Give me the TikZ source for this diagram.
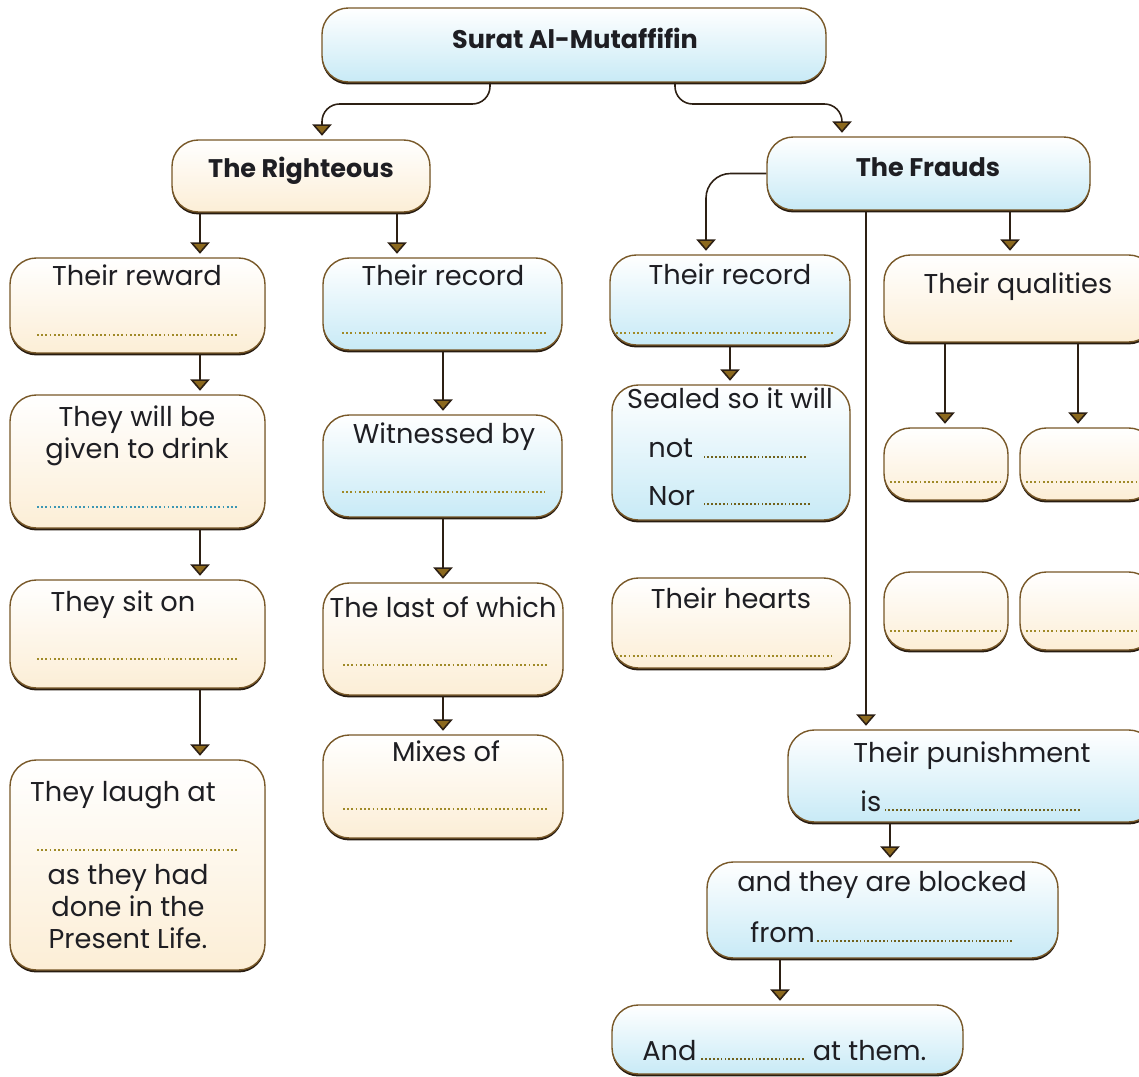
\documentclass[tikz,border=0pt]{standalone}
\usepackage{fontspec}
\setmainfont{Poppins}
\usetikzlibrary{arrows.meta,positioning,fit,shadows}

\definecolor{boxline}{RGB}{120,88,40}
\definecolor{shadowc}{RGB}{40,28,16}
\definecolor{boxblue}{RGB}{200,234,246}
\definecolor{boxcream}{RGB}{252,238,214}
\definecolor{linkc}{RGB}{45,32,20}
\definecolor{tipc}{RGB}{140,105,30}
\definecolor{dotink}{RGB}{160,138,40}
\definecolor{dotblue}{RGB}{60,150,180}
\definecolor{textc}{RGB}{30,30,35}

\newcommand{\blank}[1]{\textcolor{dotink!70!black}{\leaders\hbox to 2.2pt{\hss\rule{1pt}{1pt}\hss}\hskip#1\relax}}

\tikzset{
  card/.style={inner sep=0pt,rounded corners=15pt,draw=boxline,line width=.8pt,
    drop shadow={shadow xshift=0pt,shadow yshift=-1.4pt,fill=shadowc,opacity=1}},
  bluecard/.style={card,top color=white,bottom color=boxblue},
  creamcard/.style={card,top color=white,bottom color=boxcream},
  lab/.style={anchor=base,inner sep=0pt,text=textc,font=\fontsize{15.5}{18}\selectfont},
  labw/.style={lab,anchor=base west},
  head/.style={lab,font=\bfseries\fontsize{14.5}{18}\selectfont},
  dots/.style={dotink,line width=1pt,dash pattern=on 1pt off 1.4pt},
  link/.style={draw=linkc,line width=.9pt,-{Triangle[width=11pt,length=6.5pt,fill=tipc]},shorten >=2pt},
}

\begin{document}
\begin{tikzpicture}[x=0.02cm,y=-0.02cm]
\useasboundingbox (0,0) rectangle (1139,1077);
\clip (0,0) rectangle (1139,1077);

% columns for the connectors
\coordinate (tl) at (490,104);
\coordinate (tr) at (675,104);
\coordinate (xRi) at (322,0);
\coordinate (xFr) at (842,0);
\coordinate (xL) at (200,0);
\coordinate (xLr) at (397,0);
\coordinate (xM) at (443,0);
\coordinate (xRc) at (706,0);
\coordinate (xR) at (730,0);
\coordinate (xF) at (866,0);
\coordinate (xQ) at (1010,0);
\coordinate (xQa) at (945,0);
\coordinate (xQb) at (1078,0);
\coordinate (xP) at (890,0);
\coordinate (xB) at (780,0);

% boxes
\node[bluecard,fit={(322,8) (826,82)}] (top) {};
\node[creamcard,fit={(172,140) (430,212)}] (righteous) {};
\node[bluecard,fit={(767,137) (1090,210)}] (frauds) {};

\node[creamcard,fit={(10,258) (265,353)}] (reward) {};
\node[creamcard,fit={(10,395) (265,528)}] (drink) {};
\node[creamcard,fit={(10,580) (265,688)}] (siton) {};
\node[creamcard,fit={(10,760) (265,970)}] (laugh) {};

\node[bluecard,fit={(323,258) (562,350)}] (recordL) {};
\node[bluecard,fit={(323,415) (562,517)}] (witness) {};
\node[creamcard,fit={(323,583) (563,695)}] (lastof) {};
\node[creamcard,fit={(323,735) (563,838)}] (mixes) {};

\node[bluecard,fit={(610,255) (850,345)}] (recordR) {};
\node[bluecard,fit={(612,385) (850,520)}] (sealed) {};
\node[creamcard,fit={(612,578) (850,668)}] (hearts) {};

\node[creamcard,fit={(884,255) (1155,342)}] (qual) {};
\node[creamcard,fit={(884,428) (1008,500)}] (qa) {};
\node[creamcard,fit={(1020,428) (1155,500)}] (qb) {};
\node[creamcard,fit={(884,572) (1008,650)}] (qc) {};
\node[creamcard,fit={(1020,572) (1155,650)}] (qd) {};

\node[bluecard,fit={(788,730) (1155,822)}] (punish) {};
\node[bluecard,fit={(707,862) (1058,958)}] (blocked) {};
\node[bluecard,fit={(612,1005) (963,1074)}] (andat) {};

% texts
\node[head] (topT) at (575,49) {Surat Al-Mutaffifin};
\node[head] (righteousT) at (301,178) {The Righteous};
\node[head] (fraudsT) at (928,177) {The Frauds};

\node[lab] (rewardT) at (137,286) {Their reward};
\node[lab] (drinkT) at (137,427) {They will be};
\node[lab] (drinkU) at (137,459) {given to drink};
\node[lab] (sitonT) at (123,611) {They sit on};
\node[lab] (laughT) at (123,801) {They laugh at};
\node[lab] (laughU) at (128,884) {as they had};
\node[lab] (laughV) at (128,916) {done in the};
\node[lab] (laughW) at (128,948) {Present Life.};

\node[lab] (recordLT) at (443,286) {Their record};
\node[lab] (witnessT) at (444,444) {Witnessed by};
\node[lab] (lastofT) at (443,617) {The last of which};
\node[lab] (mixesT) at (446,761) {Mixes of};

\node[lab] (recordRT) at (730,285) {Their record};
\node[lab] (sealedT) at (730,409) {Sealed so it will};
\node[labw] (sealedU) at (648,458) {not \blank{62pt}};
\node[labw] (sealedV) at (648,505) {Nor \blank{63pt}};
\node[lab] (heartsT) at (731,608) {Their hearts};

\node[lab] (qualT) at (1018,294) {Their qualities};
\node[lab] (punishT) at (972,762) {Their punishment};
\node[labw] (punishU) at (860,811) {is\blank{115pt}};
\node[lab] (blockedT) at (882,891) {and they are blocked};
\node[labw] (blockedU) at (750,942) {from\blank{113pt}};
\node[labw] (andatT) at (642,1060) {And\blank{62pt} at them.};

% blanks to fill
\draw[dots] (37,335) -- (238,335);
\draw[dots,dotblue] (37,507) -- (238,507);
\draw[dots] (37,659) -- (238,659);
\draw[dots] (37,850) -- (238,850);
\draw[dots] (342,333) -- (548,333);
\draw[dots] (342,492) -- (545,492);
\draw[dots] (343,665) -- (548,665);
\draw[dots] (343,809) -- (548,809);
\draw[dots] (616,333) -- (834,333);
\draw[dots] (616,656) -- (832,656);
\draw[dots] (890,482) -- (1003,482);
\draw[dots] (1026,482) -- (1139,482);
\draw[dots] (890,631) -- (1003,631);
\draw[dots] (1026,631) -- (1139,631);

% connectors
\draw[link,rounded corners=10pt] (top.south -| tl) -- (tl) -| (righteous.north -| xRi);
\draw[link,rounded corners=10pt] (top.south -| tr) -- (tr) -| (frauds.north -| xFr);
\draw[link,rounded corners=14pt] (frauds.west) -| (recordR.north -| xRc);
\draw[link] (frauds.south -| xF) -- (punish.north -| xF);
\draw[link] (frauds.south -| xQ) -- (qual.north -| xQ);

\draw[link] (righteous.south -| xL) -- (reward.north -| xL);
\draw[link] (righteous.south -| xLr) -- (recordL.north -| xLr);
\draw[link] (reward.south -| xL) -- (drink.north -| xL);
\draw[link] (drink.south -| xL) -- (siton.north -| xL);
\draw[link] (siton.south -| xL) -- (laugh.north -| xL);

\draw[link] (recordL.south -| xM) -- (witness.north -| xM);
\draw[link] (witness.south -| xM) -- (lastof.north -| xM);
\draw[link] (lastof.south -| xM) -- (mixes.north -| xM);

\draw[link] (recordR.south -| xR) -- (sealed.north -| xR);
\draw[link] (qual.south -| xQa) -- (qa.north -| xQa);
\draw[link] (qual.south -| xQb) -- (qb.north -| xQb);

\draw[link] (punish.south -| xP) -- (blocked.north -| xP);
\draw[link] (blocked.south -| xB) -- (andat.north -| xB);
\end{tikzpicture}
\end{document}
